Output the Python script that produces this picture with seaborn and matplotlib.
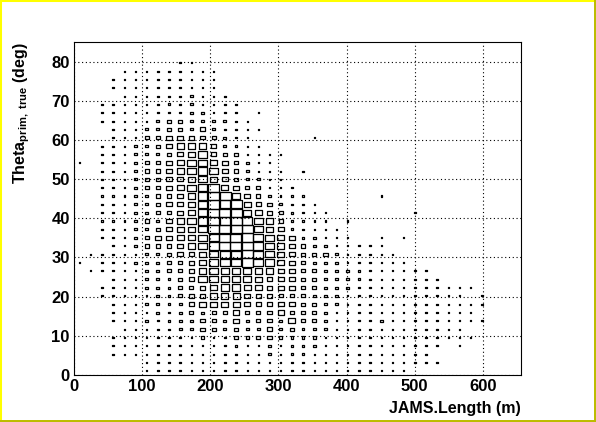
import numpy as np
import pandas as pd
import seaborn as sns
import matplotlib.pyplot as plt
from matplotlib.path import Path
from matplotlib.lines import Line2D
from matplotlib.ticker import MultipleLocator

# 2D histogram (40 x 40 bins), drawn ROOT "box" style.
# One digit per bin: 0 = empty ... 9 = box filling the whole cell.
# First string is the top row (theta bin 39), last is theta bin 0.
BOX_LEVELS = [
    "0000000000000000000000000000000000000000",
    "0000000000000000000000000000000000000000",
    "0000000001100000000000000000000000000000",
    "0000111111111000000000000000000000000000",
    "0001111111111000000000000000000000000000",
    "0001111111111000000000000000000000000000",
    "0000111111211100000000000000000000000000",
    "0011111121211110000000000000000000000000",
    "0011111111221110100000000000000000000000",
    "0011111233222211000000000000000000000000",
    "0001112233242111100000000000000000000000",
    "0001113344433211000001000000000000000000",
    "0011122345554221100000000000000000000000",
    "0011122234564331111000000000000000000000",
    "1011123345665432110000000000000000000000",
    "0011123345676432111010000000000000000000",
    "0011123344565432211000000000000000000000",
    "0011123345678543311100000000000000000000",
    "0011122334579964321110000001000000000000",
    "0011122344579995432111000000000000000000",
    "0011122334578996543211100000001000000000",
    "0011123245679997653211101000000000000000",
    "0011122345568998654211110000000000000000",
    "0011123445567899765422111001010000000000",
    "0001123334567889765432211111000000000000",
    "0111112234456778765433321111100000000000",
    "1011122233456778765432221111110000000000",
    "0111112233456666554433222211111100000000",
    "0001112223466666544433222211111110000000",
    "0011112223345665544433222111111111110000",
    "0011111223445554443332221111111111101000",
    "0001112222455554444433221111111111111000",
    "0001111212323343334333211111111111110000",
    "0001112122233242332533211112111111111000",
    "0000111112233232242322211111111111100000",
    "0001111111121132332222111111111111110000",
    "0001111111111121121222111111111110100000",
    "0001111111111111121221111111111100000000",
    "0000001111111111111111111111111110000000",
    "0000001111111111111111111111110000000000",
]

X_RANGE = (0, 656)
Y_RANGE = (0, 85)
N_BINS = 40
X_TITLE = "JAMS.Length (m)"
Y_TITLE = r"Theta$_{\rm prim,\ true}$ (deg)"

W, H, DPI = 596, 422, 100
AX_LEFT, AX_RIGHT, AX_TOP, AX_BOTTOM = 74, 521, 42, 375   # pixels

# turn the digit grid into one row per filled bin
x_w = (X_RANGE[1] - X_RANGE[0]) / N_BINS
y_w = (Y_RANGE[1] - Y_RANGE[0]) / N_BINS
records = []
for j, line in enumerate(reversed(BOX_LEVELS)):
    line = line.ljust(N_BINS, "0")[:N_BINS]
    for i, ch in enumerate(line):
        if ch != "0":
            records.append((X_RANGE[0] + (i + 0.5) * x_w,
                            Y_RANGE[0] + (j + 0.5) * y_w,
                            int(ch)))
df = pd.DataFrame(records, columns=["length", "theta", "level"])

sns.set_style("white")
plt.rcParams["font.family"] = ["Liberation Sans", "DejaVu Sans"]
plt.rcParams["font.weight"] = "bold"
plt.rcParams["axes.labelweight"] = "bold"
plt.rcParams["mathtext.fontset"] = "custom"
plt.rcParams["mathtext.rm"] = "Liberation Sans:bold"
plt.rcParams["mathtext.it"] = "Liberation Sans:bold"
plt.rcParams["mathtext.bf"] = "Liberation Sans:bold"

fig = plt.figure(figsize=(W / DPI, H / DPI), dpi=DPI, facecolor="white")
ax = fig.add_axes([AX_LEFT / W, 1 - AX_BOTTOM / H,
                   (AX_RIGHT - AX_LEFT) / W, (AX_BOTTOM - AX_TOP) / H])

# rectangular marker with the aspect of one histogram cell
cell_w_px = (AX_RIGHT - AX_LEFT) / N_BINS
cell_h_px = (AX_BOTTOM - AX_TOP) / N_BINS
hh = 0.5 * cell_h_px / cell_w_px
box = Path([(-0.5, -hh), (0.5, -hh), (0.5, hh), (-0.5, hh), (-0.5, -hh)],
           [Path.MOVETO, Path.LINETO, Path.LINETO, Path.LINETO, Path.CLOSEPOLY])
cell_pt = cell_w_px * 72 / DPI
sizes = {lv: (min(lv / 8, 1.06) * cell_pt) ** 2 for lv in range(1, 10)}

sns.scatterplot(data=df, x="length", y="theta", size="level", sizes=sizes,
                marker=box, facecolor="none", edgecolor="black",
                linewidth=0.9, legend=False, ax=ax, zorder=3)

ax.set_xlim(*X_RANGE)
ax.set_ylim(*Y_RANGE)
ax.xaxis.set_major_locator(MultipleLocator(100))
ax.xaxis.set_minor_locator(MultipleLocator(20))
ax.yaxis.set_major_locator(MultipleLocator(10))
ax.yaxis.set_minor_locator(MultipleLocator(2))

ax.grid(True, which="major", color="black", linestyle=(0, (1, 2.4)), linewidth=0.8)
ax.set_axisbelow(True)
for s in ax.spines.values():
    s.set_color("black")
    s.set_linewidth(0.8)

ax.tick_params(axis="both", which="both", direction="in", top=False, right=False,
               width=0.8, color="black", labelsize=12, labelcolor="black")
ax.tick_params(axis="x", which="major", length=7.2, pad=3)
ax.tick_params(axis="x", which="minor", length=3.6)
ax.tick_params(axis="y", which="major", length=9.6, pad=3)
ax.tick_params(axis="y", which="minor", length=4.8)
for lab in ax.get_xticklabels() + ax.get_yticklabels():
    lab.set_fontweight("bold")

ax.set_xlabel(X_TITLE, fontsize=11.5, fontweight="bold", loc="right", color="black")
ax.xaxis.set_label_coords(1.0, -0.078)
ax.set_ylabel(Y_TITLE, fontsize=11.5, fontweight="bold", loc="top", color="black")
ax.yaxis.set_label_coords(-0.094, 1.0)

# canvas bevel border
lw = 2.2
fig.add_artist(Line2D([0, 1], [1, 1], transform=fig.transFigure, color="#ffff00", lw=lw))
fig.add_artist(Line2D([0, 0], [0, 1], transform=fig.transFigure, color="#ffff00", lw=lw))
fig.add_artist(Line2D([0, 1], [0, 0], transform=fig.transFigure, color="#bcbc00", lw=lw * 1.3))
fig.add_artist(Line2D([1, 1], [0, 1], transform=fig.transFigure, color="#bcbc00", lw=lw * 1.3))

fig.savefig("out.png", dpi=DPI, facecolor="white")
